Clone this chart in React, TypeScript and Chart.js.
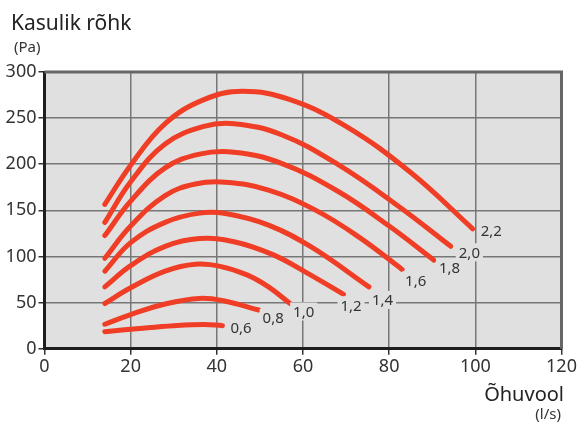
import React, { useEffect, useRef } from "react";
import { Chart, registerables } from "chart.js";

Chart.register(...registerables);

const xTicks = [0, 20, 40, 60, 80, 100, 120];
const yTicks = [0, 50, 100, 150, 200, 250, 300];

const curveLabels = ["0,6", "0,8", "1,0", "1,2", "1,4", "1,6", "1,8", "2,0", "2,2"];

const curve06 = [
  { x: 14, y: 18.5 }, { x: 22, y: 22 }, { x: 30, y: 25 }, { x: 37, y: 26.3 }, { x: 41.3, y: 25 },
];
const curve08 = [
  { x: 14, y: 26.5 }, { x: 20, y: 37 }, { x: 28, y: 48.5 }, { x: 36, y: 54.5 }, { x: 42, y: 51.5 },
  { x: 49.7, y: 42 },
];
const curve10 = [
  { x: 14, y: 49 }, { x: 20, y: 66 }, { x: 28, y: 84 }, { x: 35, y: 91.5 }, { x: 41, y: 89 },
  { x: 47, y: 80 }, { x: 52, y: 67 }, { x: 57, y: 49 },
];
const curve12 = [
  { x: 14, y: 67 }, { x: 20, y: 90 }, { x: 28, y: 111 }, { x: 36, y: 119.5 }, { x: 44, y: 116 },
  { x: 53, y: 102 }, { x: 61, y: 82 }, { x: 69.4, y: 59 },
];
const curve14 = [
  { x: 14, y: 84 }, { x: 20, y: 115 }, { x: 28, y: 137 }, { x: 36, y: 147 }, { x: 42, y: 146.5 },
  { x: 52, y: 134 }, { x: 62, y: 110 }, { x: 75.3, y: 67 },
];
const curve16 = [
  { x: 14, y: 98 }, { x: 20, y: 133 }, { x: 28, y: 166 }, { x: 35, y: 178.5 }, { x: 42, y: 180.5 },
  { x: 52, y: 172 }, { x: 63, y: 150 }, { x: 73, y: 121 }, { x: 83, y: 86 },
];
const curve18 = [
  { x: 14, y: 122.6 }, { x: 20, y: 160 }, { x: 28, y: 196 }, { x: 36, y: 211 }, { x: 44, y: 213 },
  { x: 55, y: 201 }, { x: 68, y: 171 }, { x: 80, y: 133 }, { x: 90.4, y: 96 },
];
const curve20 = [
  { x: 14, y: 137 }, { x: 20, y: 181 }, { x: 28, y: 222 }, { x: 37, y: 241 }, { x: 44, y: 244 },
  { x: 55, y: 232 }, { x: 68, y: 200 }, { x: 82, y: 155 }, { x: 94.3, y: 111 },
];
const curve22 = [
  { x: 14, y: 156.5 }, { x: 20, y: 199 }, { x: 28, y: 244 }, { x: 37, y: 270 }, { x: 46, y: 279 },
  { x: 57, y: 270 }, { x: 70, y: 241 }, { x: 85, y: 191 }, { x: 99.4, y: 130 },
];

const curves = [curve06, curve08, curve10, curve12, curve14, curve16, curve18, curve20, curve22];

// label offsets (pixels) from each curve's end point: [dx to text left, dy to text middle]
const labelOffsets = [
  [8, 2], [4, 8], [3, 8], [-3, 11], [3, 13], [3, 11], [5, 8], [8, 6], [8, 2],
];

const FONT = '"Noto Sans", "DejaVu Sans", sans-serif';
const BG = "#e0e0e0";
const RED = "#ef3e25";

const decorPlugin = {
  id: "decor",
  beforeDraw(chart: any) {
    const { ctx, chartArea: a } = chart;
    ctx.save();
    ctx.fillStyle = "#ffffff";
    ctx.fillRect(0, 0, chart.width, chart.height);
    ctx.fillStyle = BG;
    ctx.fillRect(a.left, a.top, a.right - a.left, a.bottom - a.top);
    ctx.restore();
  },
  beforeDatasetsDraw(chart: any) {
    const { ctx, chartArea: a } = chart;
    ctx.save();
    ctx.strokeStyle = "#666666";
    ctx.lineWidth = 3;
    ctx.beginPath();
    ctx.moveTo(a.left, a.top);
    ctx.lineTo(a.right, a.top);
    ctx.lineTo(a.right, a.bottom);
    ctx.stroke();
    ctx.restore();
  },
  afterDatasetsDraw(chart: any) {
    const { ctx } = chart;
    ctx.save();
    ctx.font = `15px ${FONT}`;
    ctx.textBaseline = "middle";
    ctx.textAlign = "left";
    chart.data.datasets.forEach((ds: any, i: number) => {
      const meta = chart.getDatasetMeta(i);
      const last = meta.data[meta.data.length - 1];
      const [dx, dy] = labelOffsets[i];
      const tx = last.x + dx;
      const ty = last.y + dy;
      const w = ctx.measureText(ds.label).width;
      ctx.fillStyle = BG;
      ctx.fillRect(tx - 3, ty - 9, w + 6, 18);
      ctx.fillStyle = "#333333";
      ctx.fillText(ds.label, tx, ty + 1);
    });
    ctx.restore();
  },
  afterDraw(chart: any) {
    const { ctx } = chart;
    ctx.save();
    ctx.fillStyle = "#222222";
    ctx.textBaseline = "alphabetic";
    ctx.textAlign = "left";
    ctx.font = `21px ${FONT}`;
    ctx.fillText("Kasulik rõhk", 11, 30);
    ctx.fillStyle = "#333333";
    ctx.font = `15px ${FONT}`;
    ctx.fillText("(Pa)", 14, 52);
    ctx.textAlign = "right";
    ctx.fillStyle = "#222222";
    ctx.font = `20px ${FONT}`;
    ctx.fillText("Õhuvool", 564, 401);
    ctx.fillStyle = "#333333";
    ctx.font = `15px ${FONT}`;
    ctx.fillText("(l/s)", 561, 419);
    ctx.restore();
  },
};

export default function App() {
  const ref = useRef<HTMLCanvasElement | null>(null);
  useEffect(() => {
    if (!ref.current) return;
    const chart = new Chart(ref.current, {
      type: "line",
      data: {
        datasets: curves.map((pts, i) => ({
          label: curveLabels[i],
          data: pts,
          borderColor: RED,
          backgroundColor: RED,
          borderWidth: 5,
          borderCapStyle: "round",
          borderJoinStyle: "round",
          pointRadius: 0,
          tension: 0.4,
          fill: false,
        })),
      },
      options: {
        responsive: false,
        animation: false,
        layout: { padding: { left: 0, top: 72, right: 15.5, bottom: 0 } },
        plugins: {
          legend: { display: false },
          tooltip: { enabled: false },
          title: { display: false },
        },
        scales: {
          x: {
            type: "linear",
            min: 0,
            max: 120,
            afterBuildTicks: (s: any) => {
              s.ticks = xTicks.map((v) => ({ value: v }));
            },
            afterFit: (s: any) => {
              s.height = 426 - 348.7;
              s.paddingLeft = 0;
              s.paddingRight = 0;
            },
            ticks: {
              color: "#333333",
              font: { size: 18, family: FONT },
              padding: 1,
              maxRotation: 0,
            },
            grid: {
              color: "#777777",
              lineWidth: 1.5,
              tickLength: 6,
              tickColor: "#333333",
              tickWidth: 1.5,
            },
            border: { color: "#1e1e1e", width: 3 },
          },
          y: {
            type: "linear",
            min: 0,
            max: 300,
            afterBuildTicks: (s: any) => {
              s.ticks = yTicks.map((v) => ({ value: v }));
            },
            afterFit: (s: any) => {
              s.width = 44.5;
            },
            ticks: {
              color: "#333333",
              font: { size: 18, family: FONT },
              padding: 2,
            },
            grid: {
              color: "#777777",
              lineWidth: 1.5,
              tickLength: 6,
              tickColor: "#333333",
              tickWidth: 1.5,
            },
            border: { color: "#1e1e1e", width: 3 },
          },
        },
      },
      plugins: [decorPlugin],
    } as any);
    return () => chart.destroy();
  }, []);
  return (
    <div style={{ position: "fixed", left: 0, top: 0, width: 577, height: 426, background: "#fff" }}>
      <canvas ref={ref} width={577} height={426} style={{ display: "block", width: 577, height: 426 }} />
    </div>
  );
}
